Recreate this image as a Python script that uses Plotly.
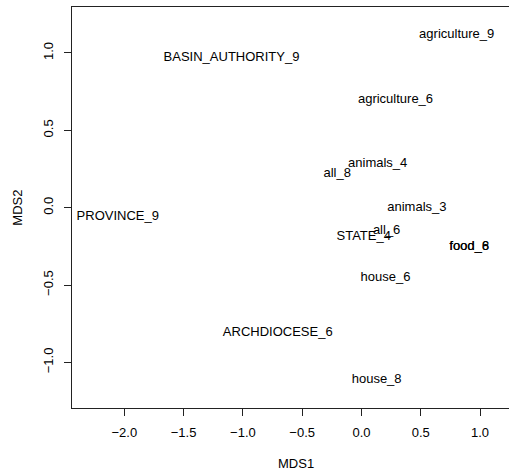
import plotly.graph_objects as go

labels = ["agriculture_9", "BASIN_AUTHORITY_9", "agriculture_6", "animals_4", "all_8",
          "animals_3", "all_6", "STATE_4", "food_6", "food_8", "house_6",
          "ARCHDIOCESE_6", "house_8", "PROVINCE_9"]
mds1 = [0.803, -1.096, 0.287, 0.137, -0.205, 0.467, 0.212, 0.019, 0.908, 0.910,
        0.202, -0.706, 0.128, -2.055]
mds2 = [1.118, 0.970, 0.698, 0.284, 0.218, 0.002, -0.149, -0.186, -0.252, -0.252,
        -0.454, -0.808, -1.112, -0.060]

x_ticks = [-2.0, -1.5, -1.0, -0.5, 0.0, 0.5, 1.0]
y_ticks = [-1.0, -0.5, 0.0, 0.5, 1.0]

FONT = "Liberation Sans, Arial, sans-serif"
FS = 13

fig = go.Figure()
fig.add_trace(go.Scatter(
    x=mds1, y=mds2, text=labels, mode="text", textposition="middle center",
    textfont=dict(family=FONT, size=FS, color="black"), hoverinfo="skip",
    cliponaxis=False, showlegend=False))

fig.update_layout(
    width=509, height=470,
    margin=dict(l=72, r=0, t=7, b=62),
    paper_bgcolor="white", plot_bgcolor="white",
    font=dict(family=FONT, size=FS, color="black"),
    xaxis=dict(range=[-2.441, 1.244], tickvals=x_ticks,
               ticktext=[f"{v:.1f}".replace("-", "\u2212") for v in x_ticks],
               showgrid=False, zeroline=False, showline=True, linecolor="#222",
               linewidth=1, mirror=True, ticks="outside", ticklen=7, tickcolor="#222",
               tickfont=dict(size=FS), ticklabelstandoff=5),
    yaxis=dict(range=[-1.295, 1.297], tickvals=y_ticks,
               ticktext=[f"{v:.1f}".replace("-", "\u2212") for v in y_ticks],
               showgrid=False, zeroline=False, showline=True, linecolor="#222",
               linewidth=1, ticks="outside", ticklen=7, tickcolor="#222",
               tickangle=-90, tickfont=dict(size=FS), ticklabelstandoff=6),
    annotations=[
        dict(text="MDS1", x=-0.552, xref="x", yref="paper", y=-(463 - 408) / 401,
             yanchor="middle", showarrow=False, font=dict(size=FS)),
        dict(text="MDS2", xref="paper", x=-(72 - 18) / 437, xanchor="center",
             y=0, yref="y", showarrow=False, textangle=-90, font=dict(size=FS)),
    ],
)

fig.write_html("out.html", config={"displayModeBar": False},
               post_script="document.body.style.margin='0px';")
